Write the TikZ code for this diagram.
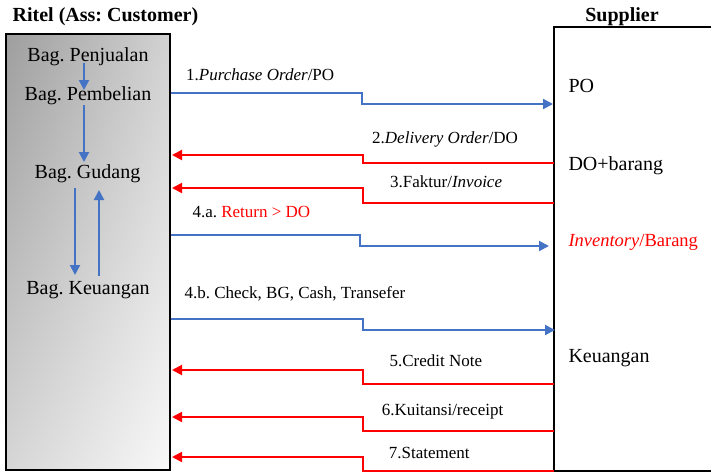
\documentclass[tikz,border=0pt]{standalone}
\usepackage{fontspec}
\setmainfont{Liberation Serif}
\usetikzlibrary{arrows.meta,calc,shadings}
\definecolor{flowblue}{HTML}{4472C4}
\definecolor{flowred}{HTML}{FF0000}
\frenchspacing
\begin{document}
\begin{tikzpicture}[x=1pt,y=-1pt,
  boxtext/.style={font=\fontsize{20}{24}\selectfont, inner sep=0pt, anchor=base},
  sidetext/.style={font=\fontsize{20}{24}\selectfont, inner sep=0pt, anchor=base west},
  msg/.style={font=\fontsize{17}{20}\selectfont, inner sep=0pt, anchor=base west},
  heading/.style={font=\fontsize{20}{24}\selectfont\bfseries, inner sep=0pt},
  flow/.style={line width=2pt, -{Triangle[length=10pt,width=10pt]}},
  blueflow/.style={flow, draw=flowblue},
  redflow/.style={flow, draw=flowred},
  ritelbox/.style={rectangle, draw=black, line width=2pt,
    minimum width=164pt, minimum height=436pt,
    shading=bilinear interpolation,
    upper left={rgb,255:red,158;green,158;blue,158},
    upper right={rgb,255:red,210;green,210;blue,210},
    lower left={rgb,255:red,214;green,214;blue,214},
    lower right={rgb,255:red,248;green,248;blue,248}},
  supbox/.style={rectangle, draw=black, line width=2pt, fill=white,
    minimum width=160pt, minimum height=444pt}
]
\useasboundingbox (0,0) rectangle (711,472);

% the two parties
\node[ritelbox] (ritel) at (88,252) {};
\node[supbox] (supplier) at (634,249) {};

\node[heading, anchor=base west] (ritelhead) at (12.5,21.7) {Ritel (Ass: Customer)};
\node[heading, anchor=base] (suphead) at (622,21.7) {Supplier};

% departments of the retailer
\node[boxtext] (jual) at (88,61.7) {Bag. Penjualan};
\node[boxtext] (beli) at (88,100) {Bag. Pembelian};
\node[boxtext] (gud) at (87.5,178.3) {Bag. Gudang};
\node[boxtext] (keu) at (88,294.3) {Bag. Keuangan};

% internal hand-overs
\coordinate (jualout) at (84,63);
\coordinate (beliin) at (84,90);
\coordinate (beliout) at (84,105);
\coordinate (gudin) at (84,162);
\coordinate (gudout) at (75,188);
\coordinate (keuin) at (75,275);
\coordinate (keuout) at (99,276);
\coordinate (gudback) at (99,190);
\draw[blueflow] (jualout) -- (beliin);
\draw[blueflow] (beliout) -- (gudin);
\draw[blueflow] (gudout) -- (keuin);
\draw[blueflow] (keuout) -- (gudback);

% supplier side entries
\node[sidetext] (spo) at (568.3,92.3) {PO};
\node[sidetext] (sdo) at (568.3,170) {DO+barang};
\node[sidetext, text=flowred, font=\fontsize{18.5}{22}\selectfont] (sinv) at (568.3,246) {\textit{Inventory}/Barang};
\node[sidetext] (skeu) at (568.3,362.7) {Keuangan};

% message end points on the box borders
\coordinate (m1a) at (171,93);  \coordinate (m1b) at (553,104);
\coordinate (m2a) at (554,163); \coordinate (m2b) at (172,155);
\coordinate (m3a) at (554,203); \coordinate (m3b) at (172,188);
\coordinate (m4a) at (171,235); \coordinate (m4b) at (549,246);
\coordinate (m5a) at (171,319); \coordinate (m5b) at (555,330);
\coordinate (m6a) at (554,384); \coordinate (m6b) at (172,370);
\coordinate (m7a) at (554,431); \coordinate (m7b) at (172,417);
\coordinate (m8a) at (554,471); \coordinate (m8b) at (172,457);

% stepped message arrows
\draw[blueflow] (m1a) -| ($(m1a)!.5!(m1b)$) |- (m1b);
\draw[redflow]  (m2a) -| ($(m2a)!.5!(m2b)$) |- (m2b);
\draw[redflow]  (m3a) -| ($(m3a)!.5!(m3b)$) |- (m3b);
\draw[blueflow] (m4a) -| ($(m4a)!.5!(m4b)$) |- (m4b);
\draw[blueflow] (m5a) -| ($(m5a)!.5!(m5b)$) |- (m5b);
\draw[redflow]  (m6a) -| ($(m6a)!.5!(m6b)$) |- (m6b);
\draw[redflow]  (m7a) -| ($(m7a)!.5!(m7b)$) |- (m7b);
\draw[redflow]  (m8a) -| ($(m8a)!.5!(m8b)$) |- (m8b);

% message labels
\node[msg] (l1) at (186,80) {1.\textit{Purchase Order}/PO};
\node[msg] (l2) at (372,143.3) {2.\textit{Delivery Order}/DO};
\node[msg] (l3) at (390,187.3) {3.Faktur/\textit{Invoice}};
\node[msg] (l4) at (192.3,217.7) {4.a. \textcolor{flowred}{Return > DO}};
\node[msg] (l5) at (184.3,298.3) {4.b. Check, BG, Cash, Transefer};
\node[msg] (l6) at (389.3,366.7) {5.Credit Note};
\node[msg] (l7) at (381.7,415) {6.Kuitansi/receipt};
\node[msg] (l8) at (388.7,458.3) {7.Statement};
\end{tikzpicture}
\end{document}
